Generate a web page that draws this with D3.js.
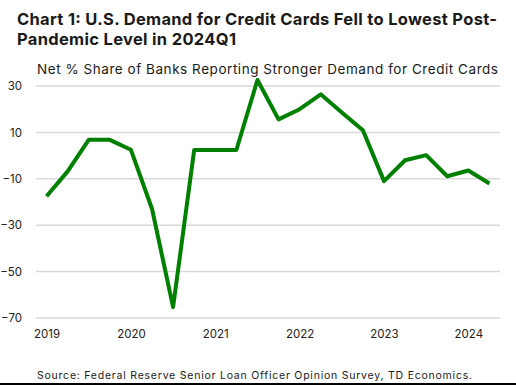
<!DOCTYPE html>
<html>
<head>
<meta charset="utf-8">
<script src="https://cdn.jsdelivr.net/npm/d3@7"></script>
<style>
  body { margin: 0; background: #fff; }
  text { font-family: "Inter", "Lato", sans-serif; }
</style>
</head>
<body>
<script>
// quarterly data, 2019Q1 - 2024Q2
var quarters = ["2019Q1","2019Q2","2019Q3","2019Q4","2020Q1","2020Q2","2020Q3","2020Q4",
                "2021Q1","2021Q2","2021Q3","2021Q4","2022Q1","2022Q2","2022Q3","2022Q4",
                "2023Q1","2023Q2","2023Q3","2023Q4","2024Q1","2024Q2"];
var demand = [-17.5, -6.8, 6.8, 6.8, 2.5, -22.9, -65.3, 2.4, 2.4, 2.4, 32.6, 15.6,
              20.0, 26.4, 18.6, 10.9, -11.0, -2.0, 0.2, -8.9, -6.4, -12.0];
var yTicks = [30, 10, -10, -30, -50, -70];
var yearLabels = ["2019","2020","2021","2022","2023","2024"];

var width = 516;
var height = 385;
var margin = {top: 86, left: 36, right: 16, bottom: 67};

var svg = d3.select("body")
        .append("svg")
        .attr("width", width)
        .attr("height", height);

var xScale = d3.scaleLinear()
           .domain([-0.5, quarters.length - 0.5])
           .range([margin.left, width - margin.right]);

var yScale = d3.scaleLinear()
           .domain([-70, 30])
           .range([height - margin.bottom, margin.top]);

// gridlines
svg.append("g")
    .selectAll("line")
    .data(yTicks)
    .join("line")
    .attr("x1", margin.left)
    .attr("x2", width - margin.right)
    .attr("y1", d => yScale(d))
    .attr("y2", d => yScale(d))
    .attr("stroke", "#d9d9d9")
    .attr("stroke-width", 1.5);

// y axis labels
var yAxis = svg.append("g")
    .attr("transform", `translate(${margin.left},0)`)
    .call(d3.axisLeft(yScale).tickValues(yTicks).tickSize(0).tickPadding(14));
yAxis.select(".domain").remove();
yAxis.selectAll("text").style("font-size", "11.5px").attr("fill", "#222");

// x axis labels, one per year at Q1
var yearIdx = yearLabels.map(y => quarters.indexOf(y + "Q1"));
var xAxis = svg.append("g")
    .attr("transform", `translate(0,${height - margin.bottom})`)
    .call(d3.axisBottom(xScale).tickValues(yearIdx)
          .tickFormat((d, i) => yearLabels[i]).tickSize(0).tickPadding(12));
xAxis.select(".domain").remove();
xAxis.selectAll("text").style("font-size", "11.5px").attr("fill", "#222");

// the line
var line = d3.line()
    .x((d, i) => xScale(i))
    .y(d => yScale(d));

svg.append("path")
    .datum(demand)
    .attr("fill", "none")
    .attr("stroke", "#008000")
    .attr("stroke-width", 4)
    .attr("stroke-linejoin", "round")
    .attr("d", line);

// titles (textLength used to match the wider original font)
svg.append("text")
    .attr("x", 17).attr("y", 25)
    .attr("textLength", 480).attr("lengthAdjust", "spacing")
    .style("font-size", "16.5px").style("font-weight", "700")
    .attr("fill", "#1a1a1a")
    .text("Chart 1: U.S. Demand for Credit Cards Fell to Lowest Post-");
svg.append("text")
    .attr("x", 17).attr("y", 45)
    .attr("textLength", 219).attr("lengthAdjust", "spacing")
    .style("font-size", "16.5px").style("font-weight", "700")
    .attr("fill", "#1a1a1a")
    .text("Pandemic Level in 2024Q1");

svg.append("text")
    .attr("x", 37).attr("y", 74)
    .attr("textLength", 461).attr("lengthAdjust", "spacing")
    .style("font-size", "13.5px")
    .attr("fill", "#1a1a1a")
    .text("Net % Share of Banks Reporting Stronger Demand for Credit Cards");

svg.append("text")
    .attr("x", 37).attr("y", 379)
    .attr("textLength", 435).attr("lengthAdjust", "spacing")
    .style("font-size", "10.5px")
    .attr("fill", "#1a1a1a")
    .text("Source: Federal Reserve Senior Loan Officer Opinion Survey, TD Economics.");

// bottom rule
svg.append("line")
    .attr("x1", 0).attr("x2", width)
    .attr("y1", height - 1).attr("y2", height - 1)
    .attr("stroke", "#000")
    .attr("stroke-width", 2);
</script>
</body>
</html>
